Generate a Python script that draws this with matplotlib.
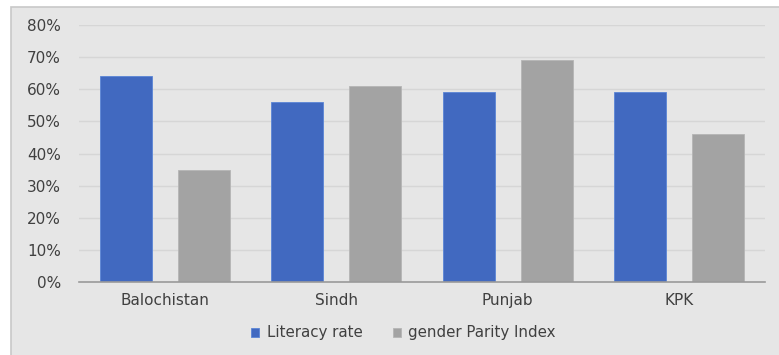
import numpy as np
import matplotlib.pyplot as plt
from matplotlib.patches import Rectangle
from matplotlib.ticker import PercentFormatter

# data
regions = ["Balochistan", "Sindh", "Punjab", "KPK"]
literacy = [64, 56, 59, 59]
gpi = [35, 61, 69, 46]

plt.rcParams["font.family"] = ["DejaVu Sans"]

W, H = 779, 355
fig = plt.figure(figsize=(W / 100, H / 100), dpi=100)
fig.patch.set_facecolor("white")

# grey chart frame, offset from top/left like the screenshot
frame = Rectangle((11 / W, -0.01), 1, (H - 7) / H + 0.01,
                  transform=fig.transFigure, facecolor="#e6e6e6",
                  edgecolor="#c8c8c8", linewidth=1.2, zorder=-5)
fig.add_artist(frame)

ax = fig.add_axes([79 / W, 1 - 282 / H, (765 - 79) / W, (282 - 25) / H])
ax.set_facecolor("none")
ax.set_zorder(1)

x = np.arange(len(regions))
w = 0.303
ax.bar(x - 0.227, literacy, w, color="#4169c0", edgecolor="#5a85d6",
       linewidth=0.6, label="Literacy rate", zorder=3)
ax.bar(x + 0.227, gpi, w, color="#a3a3a3", edgecolor="#b5b5b5",
       linewidth=0.6, label="gender Parity Index", zorder=3)

ax.set_xlim(-0.5, len(regions) - 0.5)
ax.set_ylim(0, 80)
ax.set_yticks(range(0, 81, 10))
ax.yaxis.set_major_formatter(PercentFormatter(decimals=0))
ax.set_xticks(x)
ax.set_xticklabels(regions)

ax.grid(axis="y", color="#d6d6d6", linewidth=1, zorder=0)
for s in ["top", "right", "left"]:
    ax.spines[s].set_visible(False)
ax.spines["bottom"].set_color("#9a9a9a")
ax.spines["bottom"].set_linewidth(1.2)
ax.spines["bottom"].set_zorder(4)
ax.tick_params(axis="both", length=0, labelsize=11, colors="#404040")
ax.tick_params(axis="y", pad=13)
ax.tick_params(axis="x", pad=8)

ax.legend(loc="center", bbox_to_anchor=(0.473, -0.198), ncol=2, frameon=False,
          fontsize=10.8, handlelength=0.55, handleheight=0.55,
          handletextpad=0.5, columnspacing=2.0, labelcolor="#404040")

fig.savefig("out.png", dpi=100)
